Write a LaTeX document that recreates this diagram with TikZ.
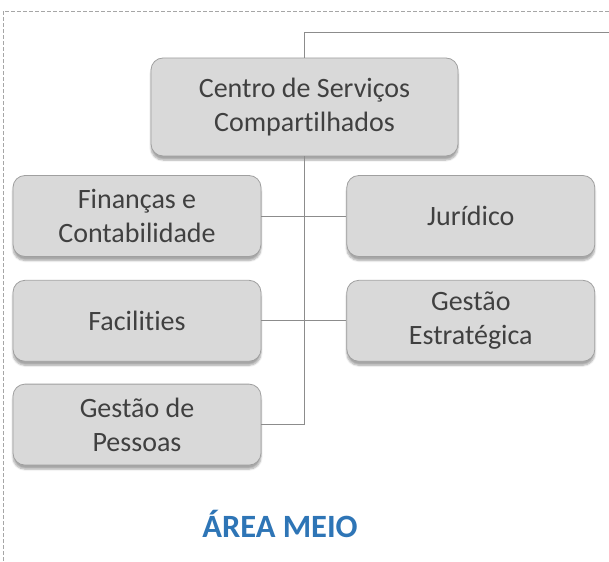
\documentclass[tikz,border=0pt]{standalone}
\usepackage{fontspec}
\setmainfont{Carlito}[Ligatures=NoCommon]
\usepackage{tikz}
\usetikzlibrary{positioning,shadows.blur}
\definecolor{boxfill}{HTML}{D9D9D9}
\definecolor{boxline}{HTML}{A0A0A0}
\definecolor{txtgray}{HTML}{404040}
\definecolor{linegray}{HTML}{8C8C8C}
\definecolor{meioblue}{HTML}{2E75B6}
\tikzset{dbox/.style={draw=boxline, fill=boxfill, rounded corners=12, line width=0.8pt, minimum width=248pt, minimum height=81pt, align=center, text=txtgray, font=\fontsize{28}{34}\selectfont, blur shadow={shadow xshift=0pt, shadow yshift=-4pt, shadow blur steps=6, shadow opacity=35}}}
\tikzset{dline/.style={draw=linegray, line width=0.8pt}}
\tikzset{dframe/.style={draw=gray!70, dash pattern=on 4pt off 2pt, line width=0.8pt}}

\begin{document}
\begin{tikzpicture}[x=1pt,y=-1pt]
    \useasboundingbox (0,0) rectangle (609,561);
    \draw[dframe] (3,561) -- (3,11) -- (609,11);
    \node[dbox, minimum width=307pt, minimum height=98pt](csc) at (304.5,107) {Centro de Serviços\\Compartilhados};
    \node[dbox](fin) at (137,216) {Finanças e\\Contabilidade};
    \node[dbox, below=23pt of fin](fac) {Facilities};
    \node[dbox, below=22pt of fac](pes) {Gestão de\\Pessoas};
    \node[dbox, right=85pt of fin](jur) {Jurídico};
    \node[dbox, right=85pt of fac](est) {Gestão\\Estratégica};
    \coordinate (topend) at (609,32);
    \coordinate (trunk) at (csc.south |- pes.east);
    \draw[dline](csc.north) |- (topend);
    \draw[dline](csc.south) -- (trunk);
    \draw[dline](pes.east) -- (trunk);
    \draw[dline](fin.east) -- (jur.west);
    \draw[dline](fac.east) -- (est.west);
    \node[text=meioblue, font=\fontsize{32.5}{38}\selectfont\bfseries](meio) at (280,524) {ÁREA MEIO};
\end{tikzpicture}
\end{document}
